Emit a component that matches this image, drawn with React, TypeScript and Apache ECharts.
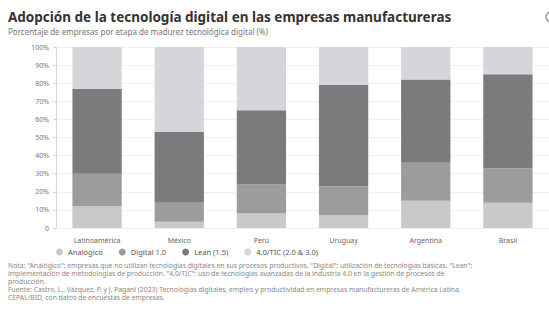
import React, { useEffect, useRef } from "react";
import * as echarts from "echarts";

const categories = ["Latinoamérica", "México", "Perú", "Uruguay", "Argentina", "Brasil"];
const seriesNames = ["Analógico", "Digital 1.0", "Lean (1.5)", "4.0/TIC (2.0 & 3.0)"];
const analogico = [12, 3.5, 8, 7, 15, 14];
const digital1 = [18, 10.5, 16, 16, 21, 19];
const lean = [47, 39, 41, 56, 46, 52];
const tic = [23, 47, 35, 21, 18, 15];
const seriesColors = ["#c9c9cc", "#9c9c9f", "#7b7b7e", "#d6d6da"];
const yTicks = [0, 10, 20, 30, 40, 50, 60, 70, 80, 90, 100];

const titleText = "Adopción de la tecnología digital en las empresas manufactureras";
const subtitleText = "Porcentaje de empresas por etapa de madurez tecnológica digital (%)";
const noteLines = [
  'Nota: "Analógico": empresas que no utilizan tecnologías digitales en sus procesos productivos. "Digital": utilización de tecnologías básicas. "Lean":',
  'implementación de metodologías de producción. "4.0/TIC": uso de tecnologías avanzadas de la industria 4.0 en la gestión de procesos de',
  "producción.",
  "Fuente: Castro, L., Vázquez, P. y J. Pagani (2023) Tecnologías digitales, empleo y productividad en empresas manufactureras de América Latina,",
  "CEPAL/BID, con datos de encuestas de empresas.",
];

export default function App() {
  const ref = useRef<HTMLDivElement>(null);
  useEffect(() => {
    if (!ref.current) return;
    const chart = echarts.init(ref.current, undefined, { renderer: "svg" });
    const data = [analogico, digital1, lean, tic];
    const font = "'Noto Sans', sans-serif";
    chart.setOption({
      animation: false,
      textStyle: { fontFamily: font },
      title: {
        text: titleText,
        subtext: subtitleText,
        left: 8,
        top: 10,
        itemGap: 3,
        padding: 0,
        textStyle: { fontSize: 13.5, fontWeight: "bold", color: "#333", fontFamily: font },
        subtextStyle: { fontSize: 8, color: "#777", fontFamily: font },
      },
      grid: { left: 56, right: 0, top: 47, bottom: 81 },
      legend: {
        left: 56,
        top: 248,
        padding: 0,
        icon: "circle",
        itemWidth: 7,
        itemHeight: 7,
        itemGap: 16,
        textStyle: { fontSize: 7.5, color: "#555", fontFamily: font },
        data: seriesNames,
      },
      xAxis: {
        type: "category",
        data: categories,
        axisLine: { show: false },
        axisTick: { show: false },
        axisLabel: { fontSize: 7, color: "#666", margin: 9 },
      },
      yAxis: {
        type: "value",
        min: 0,
        max: 100,
        interval: 10,
        axisLine: { show: true, lineStyle: { color: "#d8d8d8" } },
        axisTick: { show: true, length: 3, lineStyle: { color: "#d8d8d8" } },
        axisLabel: {
          fontSize: 7,
          color: "#777",
          margin: 7,
          formatter: (v: number) => (yTicks.includes(v) && v !== 0 ? v + "%" : "0"),
        },
        splitLine: { show: true, lineStyle: { color: "#f0f0f0" } },
      },
      series: seriesNames.map((name, i) => ({
        name,
        type: "bar",
        stack: "total",
        barWidth: "60%",
        itemStyle: { color: seriesColors[i] },
        data: data[i],
      })),
      graphic: [
        ...noteLines.map((line, i) => ({
          type: "text",
          left: 8,
          top: 262 + i * 8,
          style: { text: line, fontSize: 6.8, lineHeight: 7.6, fill: "#888", fontFamily: font },
        })),
        {
          type: "circle",
          shape: { cx: 551, cy: 17, r: 5 },
          style: { fill: "none", stroke: "#999", lineWidth: 1.5 },
        },
      ],
    });
    return () => chart.dispose();
  }, []);
  return <div ref={ref} style={{ width: 549, height: 309, position: "absolute", left: 0, top: 0 }} />;
}
